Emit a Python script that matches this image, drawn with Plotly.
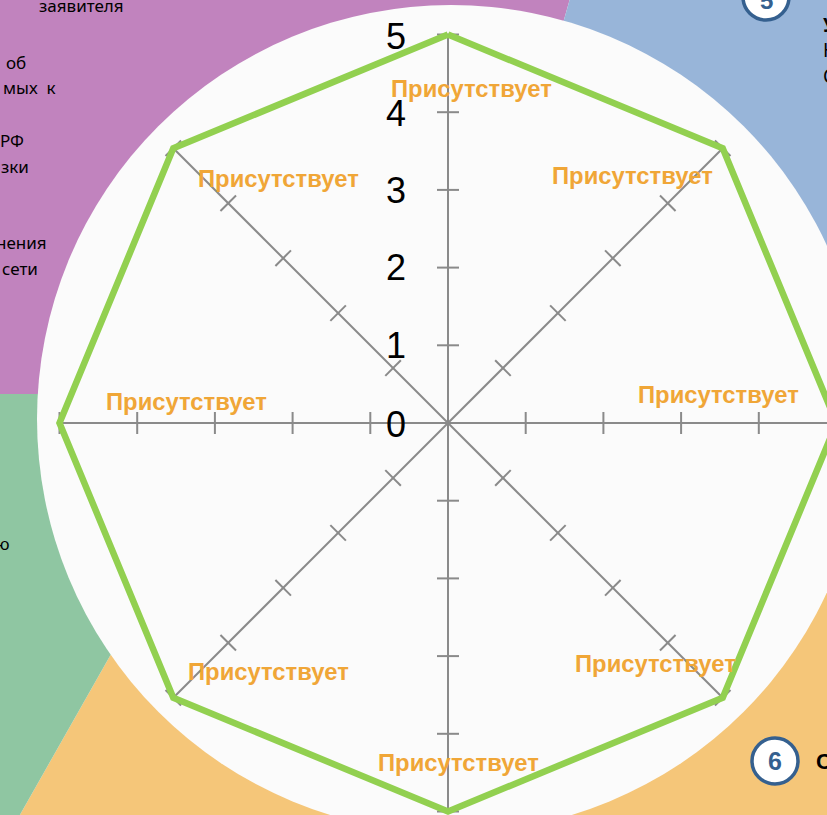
import numpy as np
import plotly.graph_objects as go

values = [5, 5, 5, 5, 5, 5, 5, 5]
spoke_angles = [90, 45, 0, -45, -90, -135, 180, 135]
radial_ticks = [1, 2, 3, 4, 5]
radial_labels = ["0", "1", "2", "3", "4", "5"]
value_label = "Присутствует"

W, H = 827, 815
CX, CY, U = 448, 423, 77.7


def X(px):
    return (px - CX) / U


def Y(py):
    return (CY - py) / U


def path(pts):
    return "M " + " L ".join(f"{X(a):.4f},{Y(b):.4f}" for a, b in pts) + " Z"


fig = go.Figure()

# sector background
sectors = [
    ("#C183BE", [(-5, -5), (571, -5), (451, 419), (451, 394), (-5, 394)]),
    ("#98B5D9", [(571, -5), (835, -5), (835, 700), (451, 419)]),
    ("#F5C679", [(835, 560), (835, 820), (17, 820), (242, 423), (451, 419)]),
    ("#8FC6A2", [(-5, 394), (451, 394), (242, 423), (17, 820), (-5, 820)]),
]
shapes = [dict(type="path", path=path(p), fillcolor=c, line_width=0, layer="below") for c, p in sectors]
shapes.append(dict(type="circle", x0=X(451 - 414), x1=X(451 + 414), y0=Y(419 + 414), y1=Y(419 - 414),
                   fillcolor="#FBFBFB", line_width=0, layer="below"))
for cx, cy, r in [(766, -3, 23), (775, 761, 23)]:
    shapes.append(dict(type="circle", x0=X(cx - r), x1=X(cx + r), y0=Y(cy + r), y1=Y(cy - r),
                       fillcolor="#FFFFFF", line=dict(color="#35608F", width=3.5), layer="below"))

# spokes and ticks
theta = np.radians(spoke_angles)
sx, sy, tx, ty = [], [], [], []
half = 11 / U
for t in theta:
    sx += [0, 5 * np.cos(t), None]
    sy += [0, 5 * np.sin(t), None]
    for r in radial_ticks:
        px, py = r * np.cos(t), r * np.sin(t)
        tx += [px - half * np.sin(t), px + half * np.sin(t), None]
        ty += [py + half * np.cos(t), py - half * np.cos(t), None]
fig.add_trace(go.Scatter(x=sx, y=sy, mode="lines", line=dict(color="#8A8A8A", width=2), hoverinfo="skip"))
fig.add_trace(go.Scatter(x=tx, y=ty, mode="lines", line=dict(color="#8A8A8A", width=2), hoverinfo="skip"))

# series
vals = np.array(values + values[:1], dtype=float)
th = np.radians(spoke_angles + spoke_angles[:1])
fig.add_trace(go.Scatter(x=vals * np.cos(th), y=vals * np.sin(th), mode="lines",
                         line=dict(color="#92D050", width=6.5), hoverinfo="skip"))

ann = []


def text(px, py, s, size, color="#000000", family="Noto Sans", bold=False, anchor="center"):
    ann.append(dict(x=X(px), y=Y(py), xref="x", yref="y", text=f"<b>{s}</b>" if bold else s, showarrow=False,
                    font=dict(size=size, color=color, family=family), xanchor=anchor, yanchor="middle"))


# value labels
for (px, py) in [(471, 88), (632, 175), (718, 394), (655, 663), (458, 762), (268, 671), (186, 401), (278, 178)]:
    text(px, py, value_label, 23.8, "#F0A637", "Liberation Sans", True)
# radial labels
for lab, py in zip(radial_labels, [424, 345, 267, 190, 113, 36]):
    text(396, py, lab, 36, "#000000", "Liberation Sans")

# clipped side text
for px, py, s in [(126, 5, "заявителя"), (28, 62, "об"), (58, 87, "мых\u00a0\u00a0к"), (26, 140, "РФ"), (31, 166, "зки"),
                  (49, 242, "нения"), (40, 268, "сети"), (12, 543, "ю")]:
    text(px, py, s, 17, anchor="right")
text(821, 25, "У", 19, bold=True, anchor="left")
text(821, 50, "Н", 19, anchor="left")
text(821, 76, "С", 19, anchor="left")
text(814, 761, "С", 22, bold=True, anchor="left", family="Liberation Sans")
text(766, 0, "5", 24, "#35608F", "Liberation Sans", True)
text(775, 761, "6", 25, "#35608F", "Liberation Sans", True)

fig.update_layout(
    width=W, height=H, margin=dict(l=0, r=0, t=0, b=0), showlegend=False,
    paper_bgcolor="#FBFBFB", plot_bgcolor="#FBFBFB", shapes=shapes, annotations=ann,
    xaxis=dict(range=[X(0), X(W)], visible=False, fixedrange=True),
    yaxis=dict(range=[Y(H), Y(0)], visible=False, fixedrange=True),
)
fig.write_html("out.html", config=dict(displayModeBar=False),
               post_script="document.body.style.margin='0';document.body.style.overflow='hidden';")
